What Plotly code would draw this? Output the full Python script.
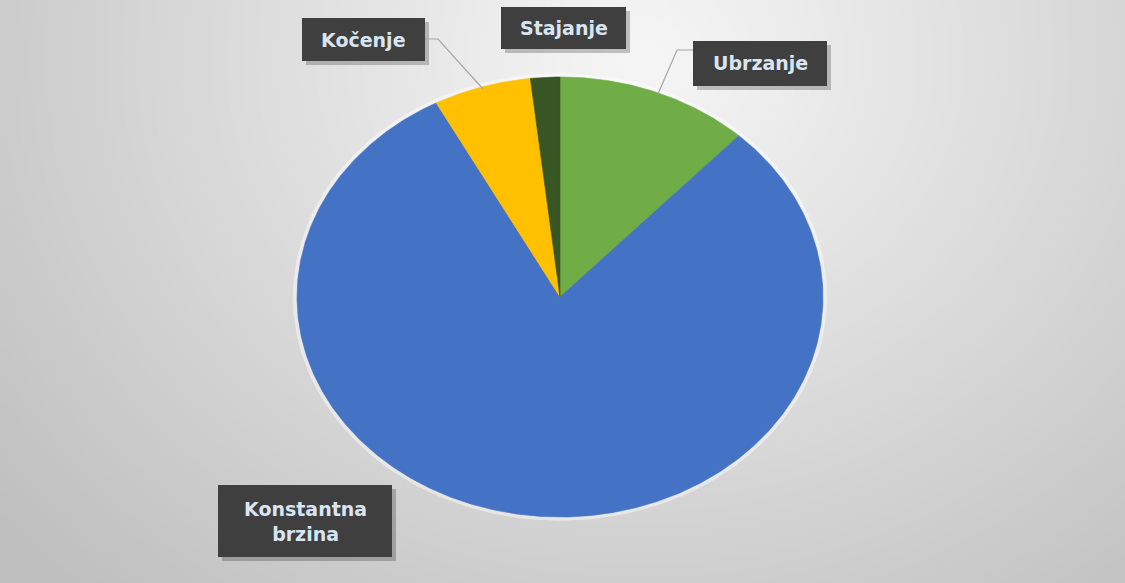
import numpy as np
import plotly.graph_objects as go

# ---- data ----
categories = ["Ubrzanje", "Konstantna brzina", "Kočenje", "Stajanje"]
values = [11.9, 80.3, 6.0, 1.8]
colors = ["#70AD47", "#4472C4", "#FFC000", "#375623"]
label_texts = ["Ubrzanje", "Konstantna<br>brzina", "Kočenje", "Stajanje"]

W, H = 1125, 583
CX, CY, RX, RY = 560, 297, 263, 220  # pie geometry in pixels


def px2x(px):
    return (px - CX) / RX


def py2y(py):
    return (CY - py) / RY


def pxp(px):
    return px / W


def pyp(py):
    return 1 - py / H


fig = go.Figure()

# background radial gradient
gx_px = np.linspace(6, W, 60)
gy_px = np.linspace(6, H, 40)
GX, GY = np.meshgrid(gx_px, gy_px)
d = np.sqrt(((GX - 640) / 1.15) ** 2 + (GY - 60) ** 2)
z = 1 - d / 720
fig.add_trace(go.Heatmap(
    x=px2x(gx_px), y=py2y(gy_px), z=z, zmin=0, zmax=1, zsmooth="best",
    colorscale=[[0, "#BFBFBF"], [1, "#F6F6F6"]], showscale=False, hoverinfo="skip"))

# soft halo around pie
t = np.linspace(0, 2 * np.pi, 300)
fig.add_trace(go.Scatter(x=1.008 * np.sin(t), y=1.008 * np.cos(t), mode="lines",
                         line=dict(color="rgba(255,255,255,0.45)", width=4),
                         hoverinfo="skip", showlegend=False))

# pie slices (clockwise from 12 o'clock)
total = sum(values)
start = 0.0
for cat, v, c in zip(categories, values, colors):
    a0 = start
    a1 = start + v / total * 360.0
    ang = np.radians(np.linspace(a0, a1, max(4, int((a1 - a0) * 2))))
    xs = np.concatenate([[0], np.sin(ang), [0]])
    ys = np.concatenate([[0], np.cos(ang), [0]])
    fig.add_trace(go.Scatter(x=xs, y=ys, fill="toself", fillcolor=c, mode="lines",
                             line=dict(color=c, width=0.6), name=cat,
                             hoverinfo="name", showlegend=False))
    start = a1

# label boxes (pixel boxes)
boxes = {
    "Ubrzanje": (693, 41, 827, 86),
    "Konstantna brzina": (218, 485, 392, 557),
    "Kočenje": (302, 18, 425, 61),
    "Stajanje": (501, 7, 626, 49),
}
shapes = []
annotations = []
for cat, txt in zip(categories, label_texts):
    x0, y0, x1, y1 = boxes[cat]
    shapes.append(dict(type="rect", xref="paper", yref="paper",
                       x0=pxp(x0 + 4), x1=pxp(x1 + 4), y0=pyp(y0 + 4), y1=pyp(y1 + 4),
                       fillcolor="rgba(0,0,0,0.22)", line=dict(width=0)))
    shapes.append(dict(type="rect", xref="paper", yref="paper",
                       x0=pxp(x0), x1=pxp(x1), y0=pyp(y0), y1=pyp(y1),
                       fillcolor="#3F3F3F", line=dict(width=0)))
    annotations.append(dict(xref="paper", yref="paper", x=pxp((x0 + x1) / 2),
                            y=pyp((y0 + y1) / 2), text=txt, showarrow=False,
                            xanchor="center", yanchor="middle",
                            font=dict(family="DejaVu Sans", size=19, color="#DAE5F2", weight="bold")))

# leader lines
leaders = [
    [(425, 39), (438, 39), (483, 89)],   # Kočenje
    [(693, 50), (677, 50), (658, 94)],   # Ubrzanje
]
for pts in leaders:
    path = "M " + " L ".join(f"{pxp(a)},{pyp(b)}" for a, b in pts)
    shapes.append(dict(type="path", xref="paper", yref="paper", path=path,
                       line=dict(color="#A6A6A6", width=1.2)))

fig.update_layout(
    width=W, height=H, margin=dict(l=0, r=0, t=0, b=0),
    paper_bgcolor="white", plot_bgcolor="white",
    xaxis=dict(range=[px2x(0), px2x(W)], visible=False, fixedrange=True),
    yaxis=dict(range=[py2y(H), py2y(0)], visible=False, fixedrange=True),
    shapes=shapes, annotations=annotations, showlegend=False,
)

fig.write_html("out.html", config={"displayModeBar": False},
               post_script="document.body.style.margin='0';document.body.style.overflow='hidden';")
